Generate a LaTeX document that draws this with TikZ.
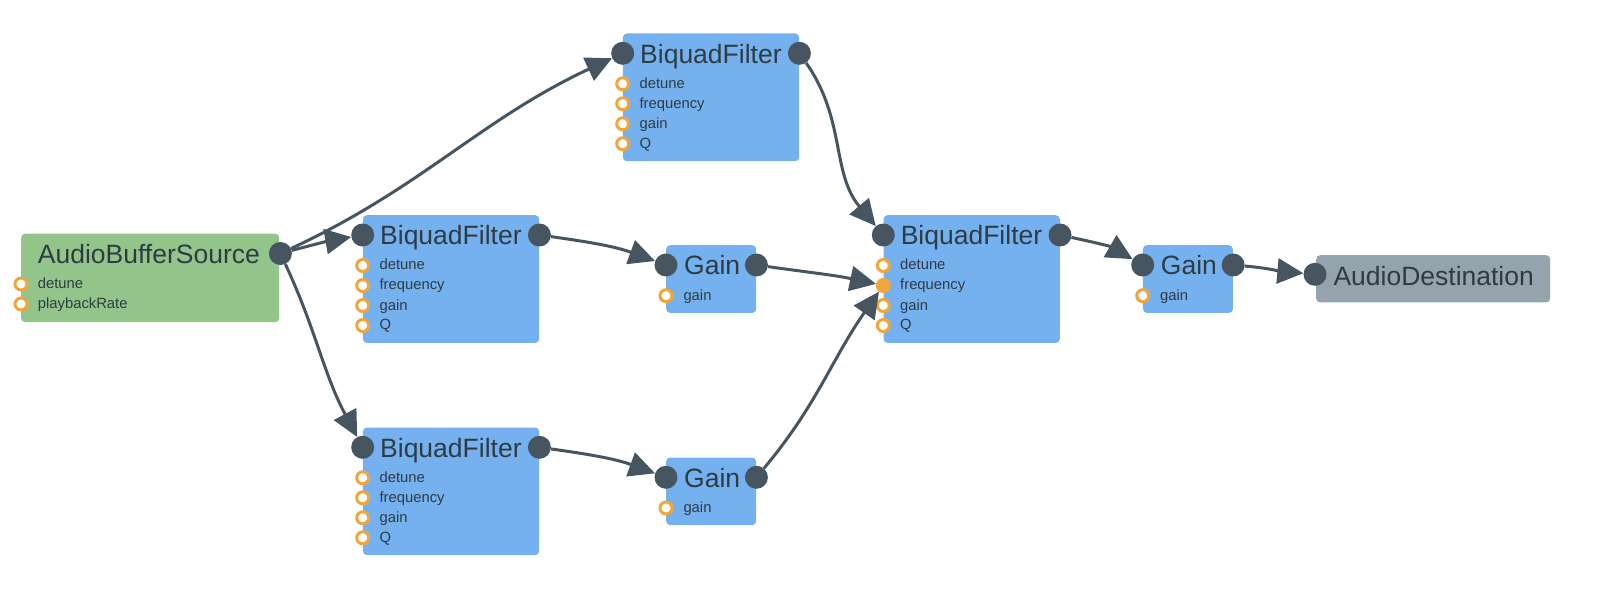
\documentclass[tikz,border=0pt]{standalone}
\usepackage{fontspec}
\setmainfont{Liberation Sans}
\usetikzlibrary{arrows.meta,calc}
\definecolor{nblue}{HTML}{76B1EF}
\definecolor{ngreen}{HTML}{93C58A}
\definecolor{ngray}{HTML}{95A3AD}
\definecolor{dark}{HTML}{46555F}
\definecolor{porange}{HTML}{F2A63A}
\definecolor{txt}{HTML}{2E3B43}
\tikzset{
 box/.style={rectangle, rounded corners=4pt, draw=none, anchor=north west, inner sep=0pt},
 port/.style={circle, fill=dark, minimum size=23pt, inner sep=0pt},
 param/.style={circle, draw=porange, line width=3pt, fill=white, minimum size=12pt, inner sep=0pt},
 paramon/.style={param, fill=porange},
 ttl/.style={anchor=base west, inner sep=0pt, text=txt, font=\fontsize{26.5pt}{30pt}\selectfont},
 plbl/.style={anchor=base west, inner sep=0pt, text=txt, font=\fontsize{14.8pt}{17pt}\selectfont},
 wire/.style={draw=dark, line width=3pt, -{Triangle[length=26pt,width=25pt]}},
}
\newcommand{\mkbiquad}[4]{%
 \node[box, fill=nblue, minimum width=176.3pt, minimum height=127.7pt] (#1) at (#2,{614-#3}) {};
 \node[ttl] (#1t) at ($(#1.north west)+(17.3,-30)$) {BiquadFilter};
 \node[port] (#1in) at ($(#1.north west)+(0,-20)$) {};
 \node[port] (#1out) at ($(#1.north east)+(0,-20)$) {};
 \node[param] (#1p1) at ($(#1.north west)+(0,-50.5)$) {};
 \node[#4] (#1p2) at ($(#1.north west)+(0,-70.5)$) {};
 \node[param] (#1p3) at ($(#1.north west)+(0,-90.5)$) {};
 \node[param] (#1p4) at ($(#1.north west)+(0,-110.5)$) {};
 \node[plbl] (#1l1) at ($(#1p1)+(16.7,-4.5)$) {detune};
 \node[plbl] (#1l2) at ($(#1p2)+(16.7,-4.5)$) {frequency};
 \node[plbl] (#1l3) at ($(#1p3)+(16.7,-4.5)$) {gain};
 \node[plbl] (#1l4) at ($(#1p4)+(16.7,-4.5)$) {Q};
}
\newcommand{\mkgain}[3]{%
 \node[box, fill=nblue, minimum width=90pt, minimum height=67.7pt] (#1) at (#2,{614-#3}) {};
 \node[ttl] (#1t) at ($(#1.north west)+(18,-30)$) {Gain};
 \node[port] (#1in) at ($(#1.north west)+(0,-20)$) {};
 \node[port] (#1out) at ($(#1.north east)+(0,-20)$) {};
 \node[param] (#1p1) at ($(#1.north west)+(0,-50.7)$) {};
 \node[plbl] (#1l1) at ($(#1p1)+(17.3,-4.5)$) {gain};
}
\begin{document}
\begin{tikzpicture}[x=1pt,y=1pt]
\useasboundingbox (0,0) rectangle (1598,614);
% AudioBufferSource
\node[box, fill=ngreen, minimum width=258pt, minimum height=88.5pt] (abs) at (21,{614-233.5}) {};
\node[ttl] (abst) at ($(abs.north west)+(16.7,-30)$) {AudioBufferSource};
\node[port] (absout) at ($(abs.north east)+(1,-20)$) {};
\node[param] (absp1) at ($(abs.north west)+(0,-50.5)$) {};
\node[param] (absp2) at ($(abs.north west)+(0,-70.5)$) {};
\node[plbl] (absl1) at ($(absp1)+(16.7,-4.5)$) {detune};
\node[plbl] (absl2) at ($(absp2)+(16.7,-4.5)$) {playbackRate};
% filters and gains
\mkbiquad{bqT}{622.7}{33.3}{param}
\mkbiquad{bqM}{362.7}{215}{param}
\mkbiquad{bqB}{362.7}{427.3}{param}
\mkbiquad{bqR}{883.3}{215}{paramon}
\mkgain{gM}{666}{245}
\mkgain{gB}{666}{457.3}
\mkgain{gR}{1142.7}{245}
% AudioDestination
\node[box, fill=ngray, minimum width=234pt, minimum height=47.3pt] (dst) at (1316,{614-255}) {};
\node[ttl] (dstt) at ($(dst.north west)+(17.3,-31)$) {AudioDestination};
\node[port] (dstin) at ($(dst.north west)+(-1,-19.3)$) {};
% connectors
\draw[wire] (absout) to[out=25,in=205] (bqTin);
\draw[wire] (absout) to[out=15,in=190] (bqMin);
\draw[wire] (absout) to[out=-65,in=118] (bqBin);
\draw[wire] (bqTout) to[out=-55,in=130] (bqRin);
\draw[wire] (bqMout) to[out=-8,in=160] (gMin);
\draw[wire] (gMout) to[out=-8,in=168] (bqRp2);
\draw[wire] (bqBout) to[out=-8,in=160] (gBin);
\draw[wire] (gBout) to[out=50,in=235] (bqRp2);
\draw[wire] (bqRout) to[out=-12,in=150] (gRin);
\draw[wire] (gRout) to[out=-5,in=175] (dstin);
\end{tikzpicture}
\end{document}
